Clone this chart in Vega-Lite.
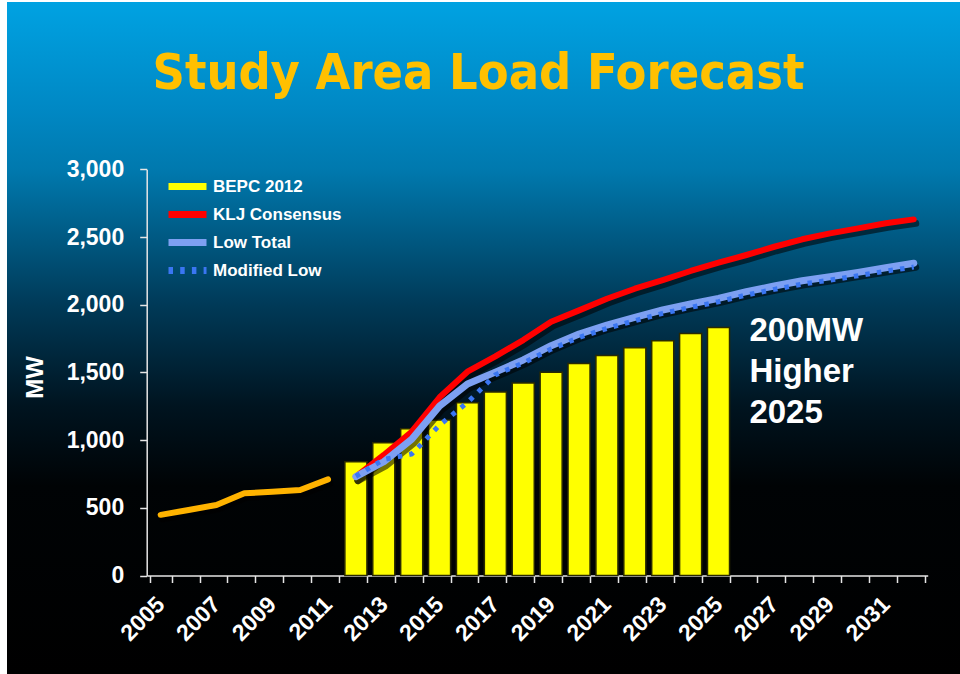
{
  "$schema": "https://vega.github.io/schema/vega-lite/v6.json",
  "width": 953,
  "height": 672,
  "autosize": {"type": "none"},
  "padding": {"left": 7, "top": 2, "right": 0, "bottom": 0},
  "background": "#FFFFFF",
  "view": {
    "stroke": null,
    "fill": {
      "gradient": "linear", "x1": 0, "y1": 0, "x2": 0, "y2": 1,
      "stops": [
        {"offset": 0, "color": "#00A2E2"},
        {"offset": 0.16, "color": "#0088C4"},
        {"offset": 0.25, "color": "#0079AE"},
        {"offset": 0.45, "color": "#003A58"},
        {"offset": 0.6, "color": "#001420"},
        {"offset": 0.72, "color": "#000305"},
        {"offset": 1, "color": "#000000"}
      ]
    }
  },
  "title": {
    "text": "Study Area Load Forecast",
    "anchor": "middle",
    "frame": "group",
    "offset": 0,
    "dy": 137,
    "dx": -5,
    "baseline": "alphabetic",
    "color": "#FFC000",
    "font": "Impact, 'Liberation Sans Narrow', 'Arial Narrow', 'DejaVu Sans Condensed', sans-serif",
    "fontSize": 50,
    "fontWeight": "bold"
  },
  "data": {
    "values": [
      {"year": 2005, "series": "Historical", "value": 448},
      {"year": 2006, "series": "Historical", "value": 484},
      {"year": 2007, "series": "Historical", "value": 521},
      {"year": 2008, "series": "Historical", "value": 607},
      {"year": 2009, "series": "Historical", "value": 619},
      {"year": 2010, "series": "Historical", "value": 631},
      {"year": 2011, "series": "Historical", "value": 710},
      {"year": 2012, "series": "BEPC 2012", "value": 840},
      {"year": 2013, "series": "BEPC 2012", "value": 980},
      {"year": 2014, "series": "BEPC 2012", "value": 1083},
      {"year": 2015, "series": "BEPC 2012", "value": 1148},
      {"year": 2016, "series": "BEPC 2012", "value": 1275},
      {"year": 2017, "series": "BEPC 2012", "value": 1356},
      {"year": 2018, "series": "BEPC 2012", "value": 1422},
      {"year": 2019, "series": "BEPC 2012", "value": 1502},
      {"year": 2020, "series": "BEPC 2012", "value": 1565},
      {"year": 2021, "series": "BEPC 2012", "value": 1625},
      {"year": 2022, "series": "BEPC 2012", "value": 1682},
      {"year": 2023, "series": "BEPC 2012", "value": 1733},
      {"year": 2024, "series": "BEPC 2012", "value": 1787},
      {"year": 2025, "series": "BEPC 2012", "value": 1832},
      {"year": 2012, "series": "KLJ Consensus", "value": 730},
      {"year": 2013, "series": "KLJ Consensus", "value": 890},
      {"year": 2014, "series": "KLJ Consensus", "value": 1062},
      {"year": 2015, "series": "KLJ Consensus", "value": 1316},
      {"year": 2016, "series": "KLJ Consensus", "value": 1505},
      {"year": 2017, "series": "KLJ Consensus", "value": 1618},
      {"year": 2018, "series": "KLJ Consensus", "value": 1739},
      {"year": 2019, "series": "KLJ Consensus", "value": 1874},
      {"year": 2020, "series": "KLJ Consensus", "value": 1958},
      {"year": 2021, "series": "KLJ Consensus", "value": 2044},
      {"year": 2022, "series": "KLJ Consensus", "value": 2118},
      {"year": 2023, "series": "KLJ Consensus", "value": 2182},
      {"year": 2024, "series": "KLJ Consensus", "value": 2249},
      {"year": 2025, "series": "KLJ Consensus", "value": 2310},
      {"year": 2026, "series": "KLJ Consensus", "value": 2367},
      {"year": 2027, "series": "KLJ Consensus", "value": 2428},
      {"year": 2028, "series": "KLJ Consensus", "value": 2483},
      {"year": 2029, "series": "KLJ Consensus", "value": 2527},
      {"year": 2030, "series": "KLJ Consensus", "value": 2564},
      {"year": 2031, "series": "KLJ Consensus", "value": 2601},
      {"year": 2032, "series": "KLJ Consensus", "value": 2630},
      {"year": 2012, "series": "Low Total", "value": 730},
      {"year": 2013, "series": "Low Total", "value": 840},
      {"year": 2014, "series": "Low Total", "value": 1006},
      {"year": 2015, "series": "Low Total", "value": 1252},
      {"year": 2016, "series": "Low Total", "value": 1414},
      {"year": 2017, "series": "Low Total", "value": 1502},
      {"year": 2018, "series": "Low Total", "value": 1592},
      {"year": 2019, "series": "Low Total", "value": 1697},
      {"year": 2020, "series": "Low Total", "value": 1783},
      {"year": 2021, "series": "Low Total", "value": 1850},
      {"year": 2022, "series": "Low Total", "value": 1907},
      {"year": 2023, "series": "Low Total", "value": 1961},
      {"year": 2024, "series": "Low Total", "value": 2005},
      {"year": 2025, "series": "Low Total", "value": 2047},
      {"year": 2026, "series": "Low Total", "value": 2097},
      {"year": 2027, "series": "Low Total", "value": 2138},
      {"year": 2028, "series": "Low Total", "value": 2177},
      {"year": 2029, "series": "Low Total", "value": 2207},
      {"year": 2030, "series": "Low Total", "value": 2239},
      {"year": 2031, "series": "Low Total", "value": 2273},
      {"year": 2032, "series": "Low Total", "value": 2306},
      {"year": 2012, "series": "Modified Low", "value": 733},
      {"year": 2013, "series": "Modified Low", "value": 857},
      {"year": 2014, "series": "Modified Low", "value": 897},
      {"year": 2015, "series": "Modified Low", "value": 1111},
      {"year": 2016, "series": "Modified Low", "value": 1278},
      {"year": 2017, "series": "Modified Low", "value": 1482},
      {"year": 2018, "series": "Modified Low", "value": 1570},
      {"year": 2019, "series": "Modified Low", "value": 1672},
      {"year": 2020, "series": "Modified Low", "value": 1758},
      {"year": 2021, "series": "Modified Low", "value": 1825},
      {"year": 2022, "series": "Modified Low", "value": 1882},
      {"year": 2023, "series": "Modified Low", "value": 1936},
      {"year": 2024, "series": "Modified Low", "value": 1980},
      {"year": 2025, "series": "Modified Low", "value": 2022},
      {"year": 2026, "series": "Modified Low", "value": 2072},
      {"year": 2027, "series": "Modified Low", "value": 2113},
      {"year": 2028, "series": "Modified Low", "value": 2152},
      {"year": 2029, "series": "Modified Low", "value": 2182},
      {"year": 2030, "series": "Modified Low", "value": 2214},
      {"year": 2031, "series": "Modified Low", "value": 2248},
      {"year": 2032, "series": "Modified Low", "value": 2278}
    ]
  },
  "encoding": {
    "x": {
      "field": "year",
      "type": "ordinal",
      "scale": {
        "domain": [2005, 2006, 2007, 2008, 2009, 2010, 2011, 2012, 2013, 2014, 2015, 2016, 2017, 2018, 2019, 2020, 2021, 2022, 2023, 2024, 2025, 2026, 2027, 2028, 2029, 2030, 2031, 2032],
        "range": [139.7, 920.7],
        "paddingInner": 0.21,
        "paddingOuter": 0.105
      },
      "axis": {
        "title": null,
        "orient": "bottom",
        "offset": -98.5,
        "labelExpr": "datum.value % 2 == 1 ? datum.label : ''",
        "labelAngle": -45,
        "labelAlign": "right",
        "labelBaseline": "middle",
        "labelPadding": 18,
        "labelOverlap": false,
        "labelFlush": false,
        "labelBound": false,
        "labelFont": "Liberation Sans",
        "labelFontWeight": "bold",
        "labelFontSize": 23,
        "labelColor": "#FFFFFF",
        "tickBand": "extent",
        "tickSize": 7,
        "tickWidth": 1.5,
        "tickColor": "#E6E6E6",
        "domainColor": "#E6E6E6",
        "domainWidth": 1.5,
        "grid": false
      }
    },
    "y": {
      "field": "value",
      "type": "quantitative",
      "scale": {"domain": [0, 3000], "range": [573.5, 167.3], "nice": false, "zero": true},
      "axis": {
        "title": "MW",
        "offset": -139.7,
        "values": [0, 500, 1000, 1500, 2000, 2500, 3000],
        "format": ",.0f",
        "grid": false,
        "labelFont": "Liberation Sans",
        "labelFontWeight": "bold",
        "labelFontSize": 23,
        "labelColor": "#FFFFFF",
        "labelPadding": 16,
        "tickSize": 7,
        "tickWidth": 1.5,
        "tickColor": "#E6E6E6",
        "domainColor": "#E6E6E6",
        "domainWidth": 1.5,
        "titleFont": "Liberation Sans",
        "titleFontWeight": "bold",
        "titleFontSize": 24,
        "titleColor": "#FFFFFF",
        "titleAngle": 270,
        "titleAlign": "center",
        "titleBaseline": "alphabetic",
        "titleX": -104,
        "titleY": 375
      }
    }
  },
  "layer": [
    {
      "transform": [{"filter": "datum.series === 'BEPC 2012'"}],
      "mark": {"type": "bar", "stroke": "#2A2A00", "strokeWidth": 1.5, "opacity": 1},
      "encoding": {
        "color": {
          "field": "series",
          "type": "nominal",
          "scale": {
            "domain": ["BEPC 2012", "KLJ Consensus", "Low Total", "Modified Low"],
            "range": ["#FFFF00", "#FF0000", "#7DA0F2", "#3A76F2"]
          },
          "legend": {
            "title": null,
            "orient": "none",
            "legendX": 158,
            "legendY": 176,
            "padding": 0,
            "symbolType": "M-1,0H6.6",
            "symbolSize": 100,
            "symbolStrokeWidth": 7,
            "rowPadding": -1,
            "labelOffset": 31,
            "labelFont": "Liberation Sans",
            "labelFontWeight": "bold",
            "labelFontSize": 17,
            "labelColor": "#FFFFFF",
            "labelBaseline": "middle"
          }
        }
      }
    },
    {
      "transform": [{"filter": "datum.series === 'Historical' || datum.series === 'KLJ Consensus' || datum.series === 'Low Total'"}],
      "mark": {"type": "line", "color": "#000000", "opacity": 0.55, "strokeWidth": 7, "xOffset": 2, "yOffset": 4, "strokeCap": "round"},
      "encoding": {"detail": {"field": "series", "type": "nominal"}}
    },
    {
      "transform": [{"filter": "datum.series === 'Historical'"}],
      "mark": {"type": "line", "color": "#FFB300", "strokeWidth": 6, "strokeCap": "round", "strokeJoin": "round"},
      "encoding": {}
    },
    {
      "transform": [{"filter": "datum.series === 'KLJ Consensus'"}],
      "mark": {"type": "line", "strokeWidth": 6, "strokeCap": "round", "strokeJoin": "round"},
      "encoding": {"color": {"field": "series", "type": "nominal"}}
    },
    {
      "transform": [{"filter": "datum.series === 'Low Total'"}],
      "mark": {"type": "line", "strokeWidth": 7, "strokeCap": "round", "strokeJoin": "round"},
      "encoding": {"color": {"field": "series", "type": "nominal"}}
    },
    {
      "transform": [{"filter": "datum.series === 'Modified Low'"}],
      "mark": {"type": "line", "strokeWidth": 5, "strokeCap": "butt"},
      "encoding": {
        "color": {"field": "series", "type": "nominal"},
        "strokeDash": {
          "field": "series",
          "type": "nominal",
          "scale": {
            "domain": ["BEPC 2012", "KLJ Consensus", "Low Total", "Modified Low"],
            "range": [[1, 0], [1, 0], [1, 0], [4.5, 7.2]]
          }
        }
      }
    },
    {
      "data": {"values": [{"year": 2026, "value": 1732, "label": "200MW\nHigher\n2025"}]},
      "mark": {
        "type": "text",
        "align": "left",
        "baseline": "alphabetic",
        "dx": 3,
        "lineBreak": "\n",
        "lineHeight": 41,
        "font": "Liberation Sans",
        "fontWeight": "bold",
        "fontSize": 33,
        "color": "#FFFFFF"
      },
      "encoding": {"text": {"field": "label", "type": "nominal"}}
    }
  ]
}
